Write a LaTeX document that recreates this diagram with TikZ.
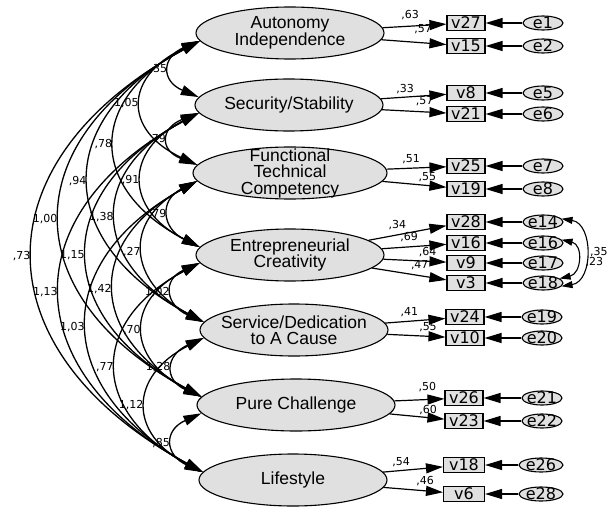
\documentclass[tikz,border=0pt]{standalone}
\usepackage{fontspec}
\setmainfont{Liberation Sans}
\newfontfamily\smallfont{DejaVu Sans}
\usetikzlibrary{arrows.meta, shapes.geometric}

\begin{document}
\begin{tikzpicture}[
        x=1pt, y=-1pt,
        latent/.style={ellipse, draw=black, line width=1.1pt, fill=black!12, minimum width=188pt, minimum height=52pt, inner xsep=-14pt, inner ysep=0pt, align=center, font=\fontsize{17.5}{16.5}\selectfont},
        observed/.style={rectangle, draw=black, line width=1.1pt, fill=black!12, minimum width=38pt, minimum height=15pt, inner sep=0pt, font=\smallfont\fontsize{16}{16}\selectfont},
        error/.style={ellipse, draw=black, line width=1.1pt, fill=black!12, minimum width=40pt, minimum height=14pt, inner xsep=-3pt, inner ysep=-2pt, font=\smallfont\fontsize{16}{16}\selectfont},
        lbl/.style={font=\smallfont\fontsize{11}{11}\selectfont, inner sep=1pt},
        load/.style={-{Triangle[length=17pt, width=10pt]}, line width=1.2pt},
        cov/.style={{Triangle[length=18pt, width=10pt]}-{Triangle[length=18pt, width=10pt]}, line width=1.3pt},
        ecov/.style={{Triangle[length=11pt, width=7pt]}-{Triangle[length=11pt, width=7pt]}, line width=1.1pt},
        ]
        \useasboundingbox (0,0) rectangle (607,508);

        % Latent factors
        \node[latent] (aut) at (290,33) {Autonomy\\Independence};
        \node[latent] (sec) at (289,105) {Security/Stability};
        \node[latent, minimum width=194pt, inner ysep=-7pt] (fun) at (290,173) {Functional\\Technical\\Competency};
        \node[latent] (ent) at (290,255) {Entrepreneurial\\Creativity};
        \node[latent] (ser) at (294,330) {Service/Dedication\\to A Cause};
        \node[latent, minimum width=198pt] (pur) at (296,405) {Pure Challenge};
        \node[latent] (lif) at (293,480) {Lifestyle};

        % Observed items
        \node[observed] (v27) at (466,23) {v27};
        \node[observed] (v15) at (466,46) {v15};
        \node[observed] (v8) at (466,93) {v8};
        \node[observed] (v21) at (466,114) {v21};
        \node[observed] (v25) at (466,166) {v25};
        \node[observed] (v19) at (466,189) {v19};
        \node[observed] (v28) at (466,222) {v28};
        \node[observed] (v16) at (466,243) {v16};
        \node[observed] (v9) at (466,263) {v9};
        \node[observed] (v3) at (466,283) {v3};
        \node[observed] (v24) at (465,317) {v24};
        \node[observed] (v10) at (465,338) {v10};
        \node[observed] (v26) at (464,398) {v26};
        \node[observed] (v23) at (464,421) {v23};
        \node[observed, minimum width=41pt] (v18) at (464,465) {v18};
        \node[observed, minimum width=41pt] (v6) at (464,494) {v6};

        % Error terms
        \node[error] (e1) at (543,23) {e1};
        \node[error] (e2) at (543,46) {e2};
        \node[error] (e5) at (543,93) {e5};
        \node[error] (e6) at (543,114) {e6};
        \node[error] (e7) at (543,166) {e7};
        \node[error] (e8) at (543,189) {e8};
        \node[error] (e14) at (543,222) {e14};
        \node[error] (e16) at (543,243) {e16};
        \node[error] (e17) at (543,263) {e17};
        \node[error] (e18) at (543,283) {e18};
        \node[error] (e19) at (542,317) {e19};
        \node[error] (e20) at (542,338) {e20};
        \node[error] (e21) at (542,398) {e21};
        \node[error] (e22) at (542,421) {e22};
        \node[error, minimum width=44pt] (e26) at (541,465) {e26};
        \node[error, minimum width=44pt] (e28) at (541,494) {e28};

        % Loadings
        \draw[load] (aut) -- (v27) node[lbl, pos=.43, above=5pt] {,63};
        \draw[load] (aut) -- (v15) node[lbl, pos=.64, above=7pt] {,57};
        \draw[load] (sec) -- (v8) node[lbl, pos=.37, above=2pt] {,33};
        \draw[load] (sec) -- (v21) node[lbl, pos=.66, above=5pt] {,57};
        \draw[load] (fun) -- (v25) node[lbl, pos=.41, above=3pt] {,51};
        \draw[load] (fun) -- (v19) node[lbl, pos=.7, above=2pt] {,55};
        \draw[load] (ent) -- (v28) node[lbl, pos=.37, above=3pt] {,34};
        \draw[load] (ent) -- (v16) node[lbl, pos=.42, above=4pt] {,69};
        \draw[load] (ent) -- (v9) node[lbl, pos=.7, above=3pt] {,64};
        \draw[load] (ent) -- (v3) node[lbl, pos=.64, above=4pt] {,47};
        \draw[load] (ser) -- (v24) node[lbl, pos=.4, above=3pt] {,41};
        \draw[load] (ser) -- (v10) node[lbl, pos=.7, above=3pt] {,55};
        \draw[load] (pur) -- (v26) node[lbl, pos=.66, above=6pt] {,50};
        \draw[load] (pur) -- (v23) node[lbl, pos=.7, above=1pt] {,60};
        \draw[load] (lif) -- (v18) node[lbl, pos=.3, above=2pt] {,54};
        \draw[load] (lif) -- (v6) node[lbl, pos=.7, above=3pt] {,46};

        % Errors to items
        \draw[load] (e1) -- (v27);
        \draw[load] (e2) -- (v15);
        \draw[load] (e5) -- (v8);
        \draw[load] (e6) -- (v21);
        \draw[load] (e7) -- (v25);
        \draw[load] (e8) -- (v19);
        \draw[load] (e14) -- (v28);
        \draw[load] (e16) -- (v16);
        \draw[load] (e17) -- (v9);
        \draw[load] (e18) -- (v3);
        \draw[load] (e19) -- (v24);
        \draw[load] (e20) -- (v10);
        \draw[load] (e21) -- (v26);
        \draw[load] (e22) -- (v23);
        \draw[load] (e26) -- (v18);
        \draw[load] (e28) -- (v6);

        % Error covariances
        \draw[ecov] (e14.10) .. controls +(32,5) and +(32,-5) .. (e18.-10) node[lbl, pos=.5, anchor=west, xshift=3pt] {,35};
        \draw[ecov] (e16.10) .. controls +(22,5) and +(22,-5) .. (e18.15) node[lbl, pos=.5, anchor=west, xshift=7pt, yshift=-3pt] {,23};

        % Factor covariances
        \draw[cov] (aut.185) .. controls +(-38,16) and +(-38,-16) .. (sec.175) node[lbl, pos=.5, left=2pt] {,35};
        \draw[cov] (aut.185) .. controls +(-75,35) and +(-75,-35) .. (fun.175) node[lbl, pos=.5, left=2pt] {1,05};
        \draw[cov] (aut.185) .. controls +(-112,58) and +(-112,-58) .. (ent.175) node[lbl, pos=.5, left=2pt] {,78};
        \draw[cov] (aut.185) .. controls +(-149,79) and +(-149,-79) .. (ser.175) node[lbl, pos=.5, left=2pt] {,94};
        \draw[cov] (aut.185) .. controls +(-186,100) and +(-186,-100) .. (pur.175) node[lbl, pos=.5, left=2pt] {1,00};
        \draw[cov] (aut.185) .. controls +(-223,121) and +(-223,-121) .. (lif.175) node[lbl, pos=.5, left=2pt] {,73};
        \draw[cov] (sec.185) .. controls +(-38,15) and +(-38,-15) .. (fun.175) node[lbl, pos=.5, left=2pt] {,79};
        \draw[cov] (sec.185) .. controls +(-75,38) and +(-75,-38) .. (ent.175) node[lbl, pos=.5, left=2pt] {,91};
        \draw[cov] (sec.185) .. controls +(-112,59) and +(-112,-59) .. (ser.175) node[lbl, pos=.5, left=2pt] {1,38};
        \draw[cov] (sec.185) .. controls +(-149,80) and +(-149,-80) .. (pur.175) node[lbl, pos=.5, left=2pt] {1,15};
        \draw[cov] (sec.185) .. controls +(-186,101) and +(-186,-101) .. (lif.175) node[lbl, pos=.5, left=2pt] {1,13};
        \draw[cov] (fun.185) .. controls +(-38,19) and +(-38,-19) .. (ent.175) node[lbl, pos=.5, left=2pt] {,79};
        \draw[cov] (fun.185) .. controls +(-75,40) and +(-75,-40) .. (ser.175) node[lbl, pos=.5, left=2pt] {,27};
        \draw[cov] (fun.185) .. controls +(-112,61) and +(-112,-61) .. (pur.175) node[lbl, pos=.5, left=2pt] {1,42};
        \draw[cov] (fun.185) .. controls +(-149,82) and +(-149,-82) .. (lif.175) node[lbl, pos=.5, left=2pt] {1,03};
        \draw[cov] (ent.185) .. controls +(-38,17) and +(-38,-17) .. (ser.175) node[lbl, pos=.5, left=2pt] {1,02};
        \draw[cov] (ent.185) .. controls +(-75,38) and +(-75,-38) .. (pur.175) node[lbl, pos=.5, left=2pt] {,70};
        \draw[cov] (ent.185) .. controls +(-112,59) and +(-112,-59) .. (lif.175) node[lbl, pos=.5, left=2pt] {,77};
        \draw[cov] (ser.185) .. controls +(-38,17) and +(-38,-17) .. (pur.175) node[lbl, pos=.5, left=2pt] {1,28};
        \draw[cov] (ser.185) .. controls +(-75,38) and +(-75,-38) .. (lif.175) node[lbl, pos=.5, left=2pt] {1,12};
        \draw[cov] (pur.185) .. controls +(-38,17) and +(-38,-17) .. (lif.175) node[lbl, pos=.5, left=2pt] {,85};

    \end{tikzpicture}
\end{document}
